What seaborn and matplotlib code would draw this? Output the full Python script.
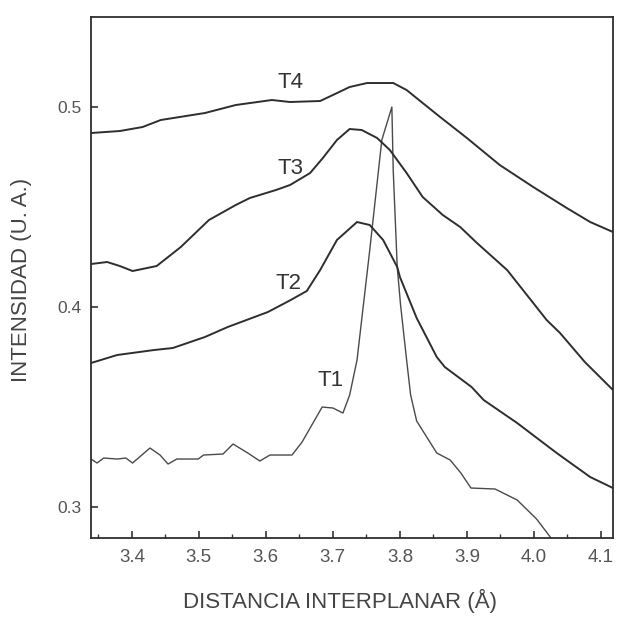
import numpy as np
import pandas as pd
import matplotlib
matplotlib.use("Agg")
import matplotlib.pyplot as plt
import seaborn as sns
from matplotlib.ticker import MultipleLocator, FormatStrFormatter

# Interplanar distance (Å) and intensity (a.u.) for each sample
t4_x = [3.339, 3.382, 3.416, 3.443, 3.509, 3.555, 3.609, 3.636, 3.681, 3.700, 3.725,
        3.751, 3.790, 3.810, 3.834, 3.860, 3.900, 3.949, 3.999, 4.049, 4.084, 4.118]
t4_y = [0.487, 0.488, 0.490, 0.4935, 0.497, 0.501, 0.5035, 0.5025, 0.503, 0.506, 0.510,
        0.512, 0.512, 0.5085, 0.502, 0.495, 0.4845, 0.471, 0.460, 0.4495, 0.4425, 0.4375]

t3_x = [3.339, 3.363, 3.382, 3.401, 3.437, 3.473, 3.515, 3.555, 3.576, 3.615, 3.636,
        3.666, 3.685, 3.706, 3.725, 3.743, 3.766, 3.785, 3.810, 3.834, 3.864, 3.890,
        3.915, 3.960, 3.999, 4.019, 4.039, 4.076, 4.118]
t3_y = [0.4215, 0.4225, 0.4205, 0.418, 0.4205, 0.430, 0.4435, 0.451, 0.4545, 0.4585, 0.461,
        0.467, 0.4745, 0.4835, 0.489, 0.4885, 0.4845, 0.4785, 0.467, 0.455, 0.446, 0.440,
        0.432, 0.4185, 0.402, 0.3935, 0.387, 0.3725, 0.3585]

t2_x = [3.339, 3.378, 3.433, 3.461, 3.509, 3.543, 3.603, 3.637, 3.661, 3.681, 3.706,
        3.736, 3.755, 3.775, 3.796, 3.800, 3.825, 3.855, 3.867, 3.907, 3.925, 3.975,
        4.034, 4.084, 4.118]
t2_y = [0.372, 0.376, 0.3785, 0.3795, 0.385, 0.390, 0.3975, 0.4035, 0.408, 0.4185, 0.4335,
        0.4425, 0.441, 0.4335, 0.420, 0.415, 0.3945, 0.375, 0.370, 0.360, 0.3535, 0.342,
        0.327, 0.315, 0.3095]

t1_x = [3.339, 3.348, 3.358, 3.378, 3.391, 3.401, 3.427, 3.442, 3.454, 3.467, 3.499,
        3.507, 3.536, 3.551, 3.573, 3.591, 3.606, 3.639, 3.654, 3.672, 3.684, 3.700,
        3.715, 3.725, 3.736, 3.755, 3.773, 3.788, 3.790, 3.796, 3.801, 3.810,
        3.816, 3.825, 3.855, 3.875, 3.891, 3.906, 3.942, 3.975, 4.004, 4.030, 4.046]
t1_y = [0.324, 0.322, 0.3245, 0.324, 0.3245, 0.322, 0.3295, 0.326, 0.3215, 0.324, 0.324,
        0.326, 0.3265, 0.3315, 0.327, 0.323, 0.326, 0.326, 0.3325, 0.343, 0.350, 0.3495,
        0.347, 0.356, 0.3735, 0.4285, 0.4835, 0.500, 0.4685, 0.420, 0.401, 0.3735,
        0.356, 0.343, 0.327, 0.3235, 0.317, 0.3095, 0.309, 0.3035, 0.294, 0.2825, 0.2735]

series_names = ["T1", "T2", "T3", "T4"]
label_x = [3.696, 3.633, 3.636, 3.636]
label_y = [0.3635, 0.412, 0.4695, 0.5125]

x_ticks = [3.4, 3.5, 3.6, 3.7, 3.8, 3.9, 4.0, 4.1]
y_ticks = [0.3, 0.4, 0.5]

frames = []
for name, xs, ys in zip(series_names, [t1_x, t2_x, t3_x, t4_x], [t1_y, t2_y, t3_y, t4_y]):
    frames.append(pd.DataFrame({"d": xs, "I": ys, "serie": name}))
df = pd.concat(frames, ignore_index=True)

sns.set_style("ticks")
plt.rcParams["font.family"] = ["Liberation Sans", "DejaVu Sans"]

fig = plt.figure(figsize=(6.17, 6.23), dpi=100)
ax = fig.add_axes([0.1475, 0.1364, 0.846, 0.8363])

styles = {"T1": ("#4a4a4a", 1.0), "T2": ("#2e2e2e", 1.4),
          "T3": ("#2e2e2e", 1.4), "T4": ("#2e2e2e", 1.4)}
for name in series_names:
    color, lw = styles[name]
    sns.lineplot(data=df[df["serie"] == name], x="d", y="I", color=color,
                 linewidth=lw, estimator=None, sort=False, ax=ax, legend=False)

for name, lx, ly in zip(series_names, label_x, label_y):
    ax.text(lx, ly, name, ha="center", va="center", fontsize=16, color="#333333")

ax.set_xlim(3.339, 4.118)
ax.set_ylim(0.2845, 0.545)

ax.set_xticks(x_ticks)
ax.set_yticks(y_ticks)
ax.xaxis.set_minor_locator(MultipleLocator(0.05))
ax.xaxis.set_major_formatter(FormatStrFormatter("%.1f"))
ax.yaxis.set_major_formatter(FormatStrFormatter("%.1f"))

ax.tick_params(axis="both", which="major", direction="in", length=5, width=1.2,
               color="#333333", labelcolor="#555555")
ax.tick_params(axis="x", which="major", labelsize=13.5, pad=8)
ax.tick_params(axis="y", which="major", labelsize=12.5, pad=7)
ax.tick_params(axis="x", which="minor", direction="in", length=3, width=1.0, color="#333333")

for side in ["left", "bottom", "top", "right"]:
    ax.spines[side].set_visible(True)
    ax.spines[side].set_linewidth(1.3)
    ax.spines[side].set_color("#2e2e2e")

ax.set_xlabel("DISTANCIA INTERPLANAR (Å)", fontsize=16, color="#444444")
ax.set_ylabel("INTENSIDAD (U. A.)", fontsize=16, color="#444444")
ax.xaxis.set_label_coords(0.477, -0.098)
ax.yaxis.set_label_coords(-0.113, 0.495)

fig.savefig("out.png", dpi=100, facecolor="white")
